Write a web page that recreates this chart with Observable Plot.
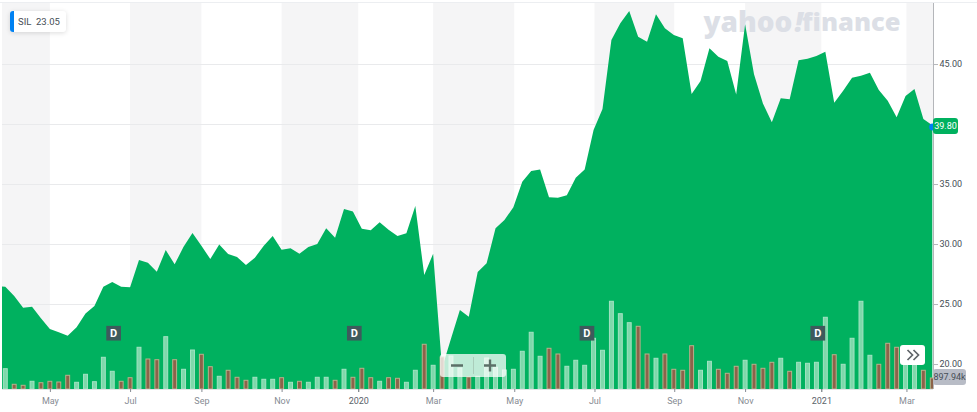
<!DOCTYPE html>
<html>
<head>
<meta charset="utf-8">
<script src="https://cdn.jsdelivr.net/npm/d3@7"></script>
<script src="https://cdn.jsdelivr.net/npm/@observablehq/plot@0.6"></script>
<style>
  html,body{margin:0;padding:0;background:#fff;width:977px;height:412px;overflow:hidden;font-family:Roboto,"Liberation Sans",sans-serif}
  #wrap{position:relative;width:977px;height:412px}
  #wrap svg{display:block}
  .tag{position:absolute;box-sizing:border-box;text-align:center;border-radius:3px}
</style>
</head>
<body>
<div id="wrap"></div>
<script>
const symbol = "SIL";
const compareValue = "23.05";
const lastPrice = 39.80;
const lastVolumeLabel = "897.94k";

// weekly closes; the first entry is the partial week just off the left edge (week -1)
const closes = [26.50,
  26.44,25.67,24.69,24.77,23.81,22.92,22.64,22.36,23.06,24.22,
  24.83,26.44,26.83,26.44,26.39,28.67,28.44,27.69,29.50,28.31,
  29.77,30.92,29.86,28.75,29.97,29.17,28.92,28.25,28.86,29.86,
  30.67,29.52,29.64,29.19,29.75,30.00,31.31,30.52,32.92,32.72,
  31.27,31.14,31.81,31.19,30.67,30.89,33.17,27.42,29.19,19.67,
  22.11,24.50,23.94,27.67,28.39,31.31,32.00,33.06,35.19,36.08,
  36.22,33.89,33.86,34.06,35.52,36.22,39.50,41.25,47.00,48.39,
  49.42,47.28,46.86,49.14,47.98,47.42,47.14,42.50,43.58,46.31,
  45.61,45.25,42.47,48.31,44.14,41.72,40.14,42.14,42.06,45.31,
  45.44,45.67,46.03,41.77,42.77,43.86,44.02,44.27,42.83,41.94,
  40.56,42.33,42.92,40.42,39.90];

// weekly volume, thousands of shares
const volumes = [
  1656,384,302,628,514,628,571,1118,547,1200,
  596,2587,1444,628,922,3403,2448,2391,4268,2391,
  1608,3182,2832,1820,1036,1526,955,710,955,792,
  792,922,547,628,547,955,955,710,1608,955,
  1689,922,628,922,873,547,1526,3648,1934,2611,
  2693,1714,979,1036,2530,1771,1550,1608,3076,4627,
  2668,3321,2856,1852,2342,1934,4137,3158,7156,6144,
  5410,5116,2856,2505,2856,1608,1526,3533,1526,2260,
  1608,1281,1852,2342,2016,1689,2179,2505,1444,2179,
  2097,2179,5851,2799,2016,4137,7156,2750,2016,3729,
  3403,2448,2122,1526,898];

// weeks that closed lower (drawn brown)
const downWeeks = [1,2,4,5,6,7,13,14,16,17,19,22,23,25,26,27,31,33,37,39,40,41,43,44,47,49,52,61,62,71,72,74,75,76,77,80,81,82,84,85,86,88,93,98,99,100,103,104];

const dividendWeeks = [12.1,39.1,65.2,91.1];
const dividendLabel = "D";

const monthTicks = [5,14,22,31,48,57.1,66.1,75.05,83,101.1];
const monthLabels = ["May","Jul","Sep","Nov","Mar","May","Jul","Sep","Nov","Mar"];
const yearTicks = [39.6,91.55];
const yearLabels = ["2020","2021"];
const priceTicks = [20,25,30,35,40,45];
const shadedSpans = [[-0.37,5],[14,22],[31,39.6],[48,57.1],[66.1,75.05],[83,91.55],[101.1,104.08]];

const xDomain = [-0.37,104.08];
const yDomain = [17.92,50.17];
const sharesPerPriceUnit = 979;   // volume overlay shares the price axis
const dividendLevel = 22.61;

const weeks = volumes.map((v,i)=>i);
const logoStyle = {frameAnchor:"top-left",dy:10,fontSize:28,fontWeight:800,fill:"#dcdfe6",fontFamily:"'Open Sans'",lineAnchor:"top"};
const plot = Plot.plot({
  width:977, height:412,
  marginLeft:2, marginRight:44, marginTop:2, marginBottom:23,
  style:{background:"transparent",fontFamily:"Roboto, 'Liberation Sans', sans-serif"},
  x:{domain:xDomain, label:null},
  y:{domain:yDomain, label:null},
  marks:[
    Plot.rect(shadedSpans,{x1:d=>d[0],x2:d=>d[1],y1:yDomain[0],y2:yDomain[1],fill:"#f5f5f6"}),
    Plot.gridY(priceTicks,{stroke:"#e9eaec",strokeOpacity:1}),
    Plot.text(["yahoo"],{...logoStyle,dx:701,textAnchor:"start"}),
    Plot.text(["!"],{...logoStyle,dx:792,textAnchor:"start",fontStyle:"italic"}),
    Plot.text(["finance"],{...logoStyle,dx:898,textAnchor:"end",fontSize:25.5}),
    Plot.areaY(closes,{x:(d,i)=>i-1,y1:yDomain[0],y2:d=>d,fill:"#00b15f",clip:true}),
    Plot.rect(weeks,{
      x1:k=>k-0.22,x2:k=>k+0.22,
      y1:yDomain[0],y2:k=>yDomain[0]+volumes[k]/sharesPerPriceUnit,
      fill:k=>downWeeks.includes(k)?"#8c634a":"#7fd8ab",
      stroke:k=>downWeeks.includes(k)?"#b9b08c":"#a3e3c3",
      strokeWidth:1,clip:true
    }),
    Plot.dot(dividendWeeks,{x:d=>d,y:dividendLevel,symbol:"square",r:8.3,fill:"#3e5a5c"}),
    Plot.text(dividendWeeks,{x:d=>d,y:dividendLevel,text:()=>dividendLabel,fill:"#fff",fontSize:11,fontWeight:700}),
    Plot.ruleX([xDomain[1]],{stroke:"#b4b6ba"}),
    Plot.ruleY([yDomain[0]],{stroke:"#e3e4e6"}),
    Plot.axisY({anchor:"right",ticks:priceTicks,tickFormat:d=>Math.abs(d-lastPrice)<1?"":d.toFixed(2),tickSize:4,tickPadding:2,fontSize:9,color:"#464e56",stroke:"#b4b6ba"}),
    Plot.axisX({anchor:"bottom",ticks:monthTicks,tickFormat:d=>monthLabels[monthTicks.indexOf(d)],tickSize:3,tickPadding:5,fontSize:9,color:"#868b93"}),
    Plot.axisX({anchor:"bottom",ticks:yearTicks,tickFormat:d=>yearLabels[yearTicks.indexOf(d)],tickSize:3,tickPadding:5,fontSize:9,color:"#5b636a"}),
    Plot.dot([lastPrice],{x:xDomain[1]-0.1,y:d=>d,r:3.5,fill:"#0081f2"})
  ]
});
const wrap = document.getElementById("wrap");
wrap.appendChild(plot);

function add(html){const t=document.createElement("template");t.innerHTML=html.trim();wrap.appendChild(t.content.firstChild);}
const yPx = plot.scale("y").apply(lastPrice);

add(`<div style="position:absolute;left:0;right:0;top:2px;height:1px;background:#eceef1"></div>`);
add(`<div style="position:absolute;left:10px;top:11px;width:56px;height:21px;background:#fff;border-radius:3px;box-shadow:0 1px 5px rgba(0,0,0,.14);overflow:hidden;font-size:9.5px;color:#464e56;line-height:21px;white-space:nowrap"><span style="position:absolute;left:0;top:0;bottom:0;width:4px;background:#0081f2"></span><span style="position:absolute;left:8px">${symbol}</span><span style="position:absolute;left:26px">${compareValue}</span></div>`);
add(`<div class="tag" style="left:933px;top:${yPx-8}px;width:25px;height:16px;line-height:16px;background:#00b15f;color:#fff;font-size:9px">${lastPrice.toFixed(2)}</div>`);
add(`<div class="tag" style="left:933px;top:369px;width:33px;height:16px;line-height:16px;background:#b8bcc6;color:#464e56;font-size:9px">${lastVolumeLabel}</div>`);
add(`<div style="position:absolute;left:900px;top:345px;width:25px;height:20px;background:#fff;border-radius:3px;display:flex;align-items:center;justify-content:center"><svg width="14" height="12" viewBox="0 0 14 12"><path d="M1.5 1l5 5-5 5M7.5 1l5 5-5 5" fill="none" stroke="#5f6468" stroke-width="1.7"/></svg></div>`);
add(`<div style="position:absolute;left:440px;top:354px;width:66px;height:23px;background:rgba(255,255,255,.75);border-radius:3px"><svg width="66" height="23" style="position:absolute;left:0;top:0"><path d="M11 11.5H23M44 11.5H56M50 5.5V17.5" stroke="#5c7068" stroke-width="2.4" fill="none"/><path d="M33.5 3V20" stroke="#aacdbb" stroke-width="1"/></svg></div>`);
</script>
</body>
</html>
